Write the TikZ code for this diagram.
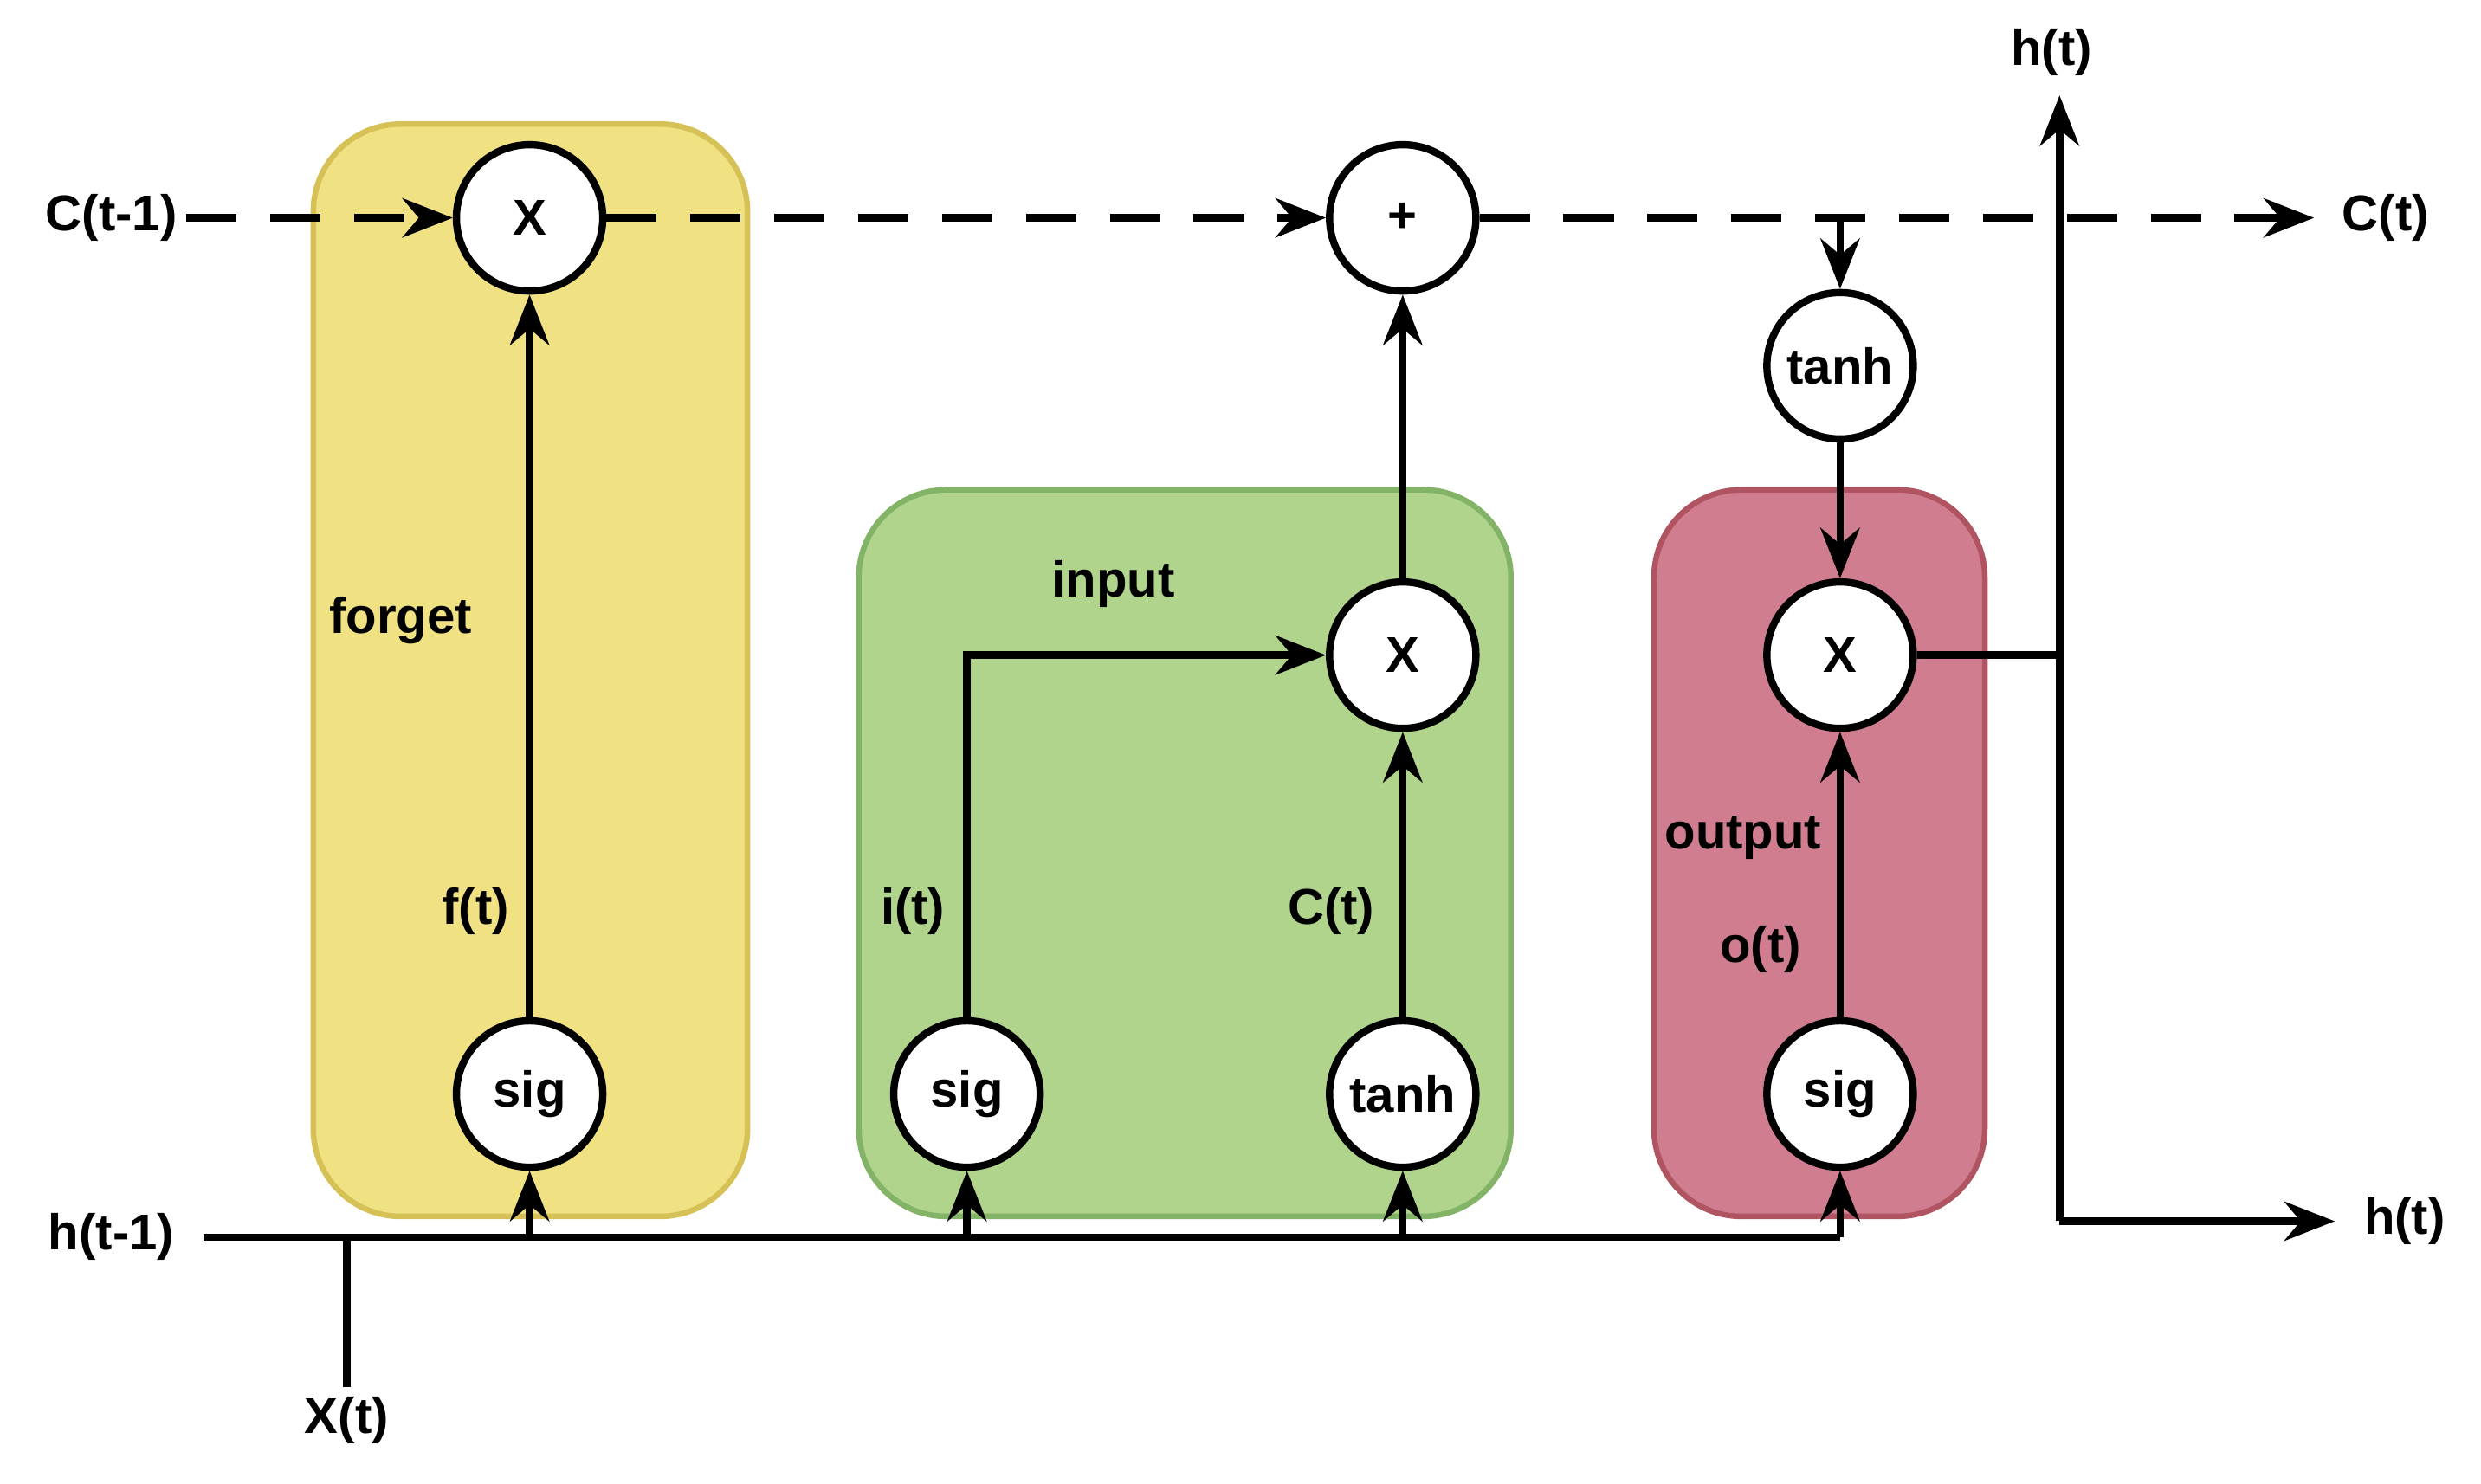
\documentclass[tikz,border=0pt]{standalone}
\usepackage{fontspec}
\setmainfont{Liberation Sans}
\usetikzlibrary{arrows.meta,positioning}
\definecolor{forgetfill}{HTML}{F0E182}
\definecolor{forgetdraw}{HTML}{D6C156}
\definecolor{inputfill}{HTML}{B0D48C}
\definecolor{inputdraw}{HTML}{82B366}
\definecolor{outputfill}{HTML}{D17D90}
\definecolor{outputdraw}{HTML}{B05462}
\begin{document}
\begin{tikzpicture}[x=0.01cm,y=-0.01cm,line width=1.3pt,
   >={Stealth[length=9pt,width=7pt]},
   font=\fontsize{9}{11}\selectfont\bfseries,
   gate/.style={circle,draw,fill=white,minimum size=0.92cm,inner sep=0pt},
   box/.style={rounded corners=0.55cm,line width=1pt},
   lbl/.style={inner sep=1pt}]
   \useasboundingbox (0,0) rectangle (1560,933);
   % boxes
   \draw[box,fill=forgetfill,draw=forgetdraw] (197,78) rectangle (470,765);
   \draw[box,fill=inputfill,draw=inputdraw] (540,308) rectangle (950,765);
   \draw[box,fill=outputfill,draw=outputdraw] (1040,308) rectangle (1248,765);
   % gates
   \node[gate] (mulf) at (333,137) {X};
   \node[gate] (add)  at (882,137) {+};
   \node[gate] (tanhc) at (1157,230) {tanh};
   \node[gate] (muli) at (882,412) {X};
   \node[gate] (mulo) at (1157,412) {X};
   \node[gate] (sigf) at (333,688) {sig};
   \node[gate] (sigi) at (608,688) {sig};
   \node[gate] (tanhi) at (882,688) {tanh};
   \node[gate] (sigo) at (1157,688) {sig};
   % labels
   \node[lbl] (cin)  at (70,137) {C(t-1)};
   \node[lbl] (cout) at (1500,137) {C(t)};
   \node[lbl] (hin)  at (70,778) {h(t-1)};
   \node[lbl] (xin)  at (218,893) {X(t)};
   \node[lbl] (htop) at (1290,33) {h(t)};
   \node[lbl] (hout) at (1512,768) {h(t)};
   \node[lbl] at (252,390) {forget};
   \node[lbl] at (700,367) {input};
   \node[lbl] at (1096,527) {output};
   \node[lbl] at (299,573) {f(t)};
   \node[lbl] at (574,573) {i(t)};
   \node[lbl] at (837,573) {C(t)};
   \node[lbl] at (1107,597) {o(t)};
   % cell state
   \coordinate (cs) at (1157,137);
   \coordinate (ce) at (1455,137);
   \draw[->,dashed,dash pattern=on 9pt off 6pt] (cin) -- (mulf);
   \draw[->,dashed,dash pattern=on 9pt off 6pt] (mulf) -- (add);
   \draw[->,dashed,dash pattern=on 9pt off 6pt] (add) -- (ce);
   \draw[->] (cs) -- (tanhc);
   % hidden input
   \coordinate (hs) at (128,778);
   \coordinate (he) at (1157,778);
   \coordinate (xj) at (218,778);
   \draw (hs) -- (he);
   \draw (xin) -- (xj);
   \foreach \g in {sigf,sigi,tanhi,sigo}
      \draw[->] (\g |- he) -- (\g);
   % gate paths
   \draw[->] (sigf) -- (mulf);
   \draw[->] (sigi) |- (muli);
   \draw[->] (tanhi) -- (muli);
   \draw[->] (muli) -- (add);
   \draw[->] (tanhc) -- (mulo);
   \draw[->] (sigo) -- (mulo);
   % output
   \coordinate (ho) at (1295,412);
   \coordinate (hb) at (1295,768);
   \coordinate (ht) at (1295,60);
   \coordinate (hr) at (1468,768);
   \draw (mulo) -- (ho);
   \draw[->] (hb) -- (ht);
   \draw[->] (hb) -- (hr);
\end{tikzpicture}
\end{document}
